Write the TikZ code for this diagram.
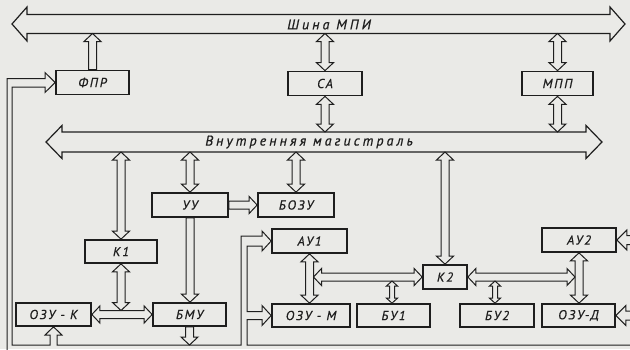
\documentclass[tikz,border=0pt]{standalone}
\usepackage{fontspec}
\setmainfont{PT Sans}
\usetikzlibrary{calc}
\definecolor{bg}{RGB}{234,234,231}
\definecolor{ink}{RGB}{30,30,30}
\newcommand\ahl{8pt}\newcommand\ahw{8pt}\newcommand\asw{3.5pt}
\newcommand\setarr[3]{\renewcommand\ahl{#1}\renewcommand\ahw{#2}\renewcommand\asw{#3}}
% single hollow arrow: tail #2, tip #3
\newcommand\sarr[3][conn]{\draw[#1] (#3) -- ($(#3)!\ahl!(#2)!\ahw!90:(#2)$) -- ($(#3)!\ahl!(#2)!\asw!90:(#2)$) -- ($(#2)!\asw!-90:(#3)$) -- ($(#2)!\asw!90:(#3)$) -- ($(#3)!\ahl!(#2)!\asw!-90:(#2)$) -- ($(#3)!\ahl!(#2)!\ahw!-90:(#2)$) -- cycle;}
% double hollow arrow between #2 and #3
\newcommand\darr[3][conn]{\draw[#1] (#3) -- ($(#3)!\ahl!(#2)!\ahw!90:(#2)$) -- ($(#3)!\ahl!(#2)!\asw!90:(#2)$) -- ($(#2)!\ahl!(#3)!\asw!-90:(#3)$) -- ($(#2)!\ahl!(#3)!\ahw!-90:(#3)$) -- (#2) -- ($(#2)!\ahl!(#3)!\ahw!90:(#3)$) -- ($(#2)!\ahl!(#3)!\asw!90:(#3)$) -- ($(#3)!\ahl!(#2)!\asw!-90:(#2)$) -- ($(#3)!\ahl!(#2)!\ahw!-90:(#2)$) -- cycle;}
\newcommand\boxfont{\fontsize{13}{13}\selectfont\itshape\addfontfeature{LetterSpace=14,FakeBold=0.6}}
\newcommand\busfont{\fontsize{14}{14}\selectfont\itshape\addfontfeature{LetterSpace=22,FakeBold=0.6}}
\begin{document}
\begin{tikzpicture}[x=1pt,y=-1pt,
  box/.style={draw=ink, line width=1.7pt, minimum height=24pt, inner sep=0pt, font=\boxfont, text=ink},
  conn/.style={draw=ink, line width=1pt, line join=miter},
  bus/.style={draw=ink, line width=1.2pt, line join=miter},
  lbl/.style={font=\busfont, text=ink, inner sep=0pt}]
\useasboundingbox (0,0) rectangle (630,349);
\fill[bg] (0,0) rectangle (630,349);
\clip (0,0) rectangle (630,349);
% buses
\coordinate (tbL) at (12,24); \coordinate (tbR) at (625,24);
\coordinate (tbS) at (0,33.5);
\coordinate (ibL) at (46,142); \coordinate (ibR) at (602,142);
\coordinate (ibN) at (0,132); \coordinate (ibS) at (0,152);
\setarr{15pt}{17pt}{9.5pt}
\darr[bus]{tbL}{tbR}
\setarr{16pt}{16.5pt}{10pt}
\darr[bus]{ibL}{ibR}
\node[lbl] (tbtext) at (329,24.5) {Шина МПИ};
\node[lbl] (ibtext) at (309,142) {Внутренняя магистраль};
% boxes
\node[box, minimum width=73pt] (fpr) at (92.5,82.5) {ФПР};
\node[box, minimum width=74pt] (sa) at (325,83.5) {СА};
\node[box, minimum width=71pt] (mpp) at (557.5,83.5) {МПП};
\node[box, minimum width=76pt] (uu) at (190,205) {УУ};
\node[box, minimum width=76pt] (bozu) at (296,205) {БОЗУ};
\node[box, minimum width=72pt, minimum height=23pt] (k1) at (121,251.5) {К1};
\node[box, minimum width=75pt] (au1) at (309.5,241) {АУ1};
\node[box, minimum width=74pt] (au2) at (579,240) {АУ2};
\node[box, minimum width=44pt] (k2) at (445,277) {К2};
\node[box, minimum width=75pt, minimum height=23pt] (ozuk) at (53.5,314.5) {ОЗУ - К};
\node[box, minimum width=73pt, minimum height=23pt] (bmu) at (189.5,314.5) {БМУ};
\node[box, minimum width=78pt, minimum height=23pt] (ozum) at (311,315.5) {ОЗУ - М};
\node[box, minimum width=73pt, minimum height=23pt] (bu1) at (393.5,315.5) {БУ1};
\node[box, minimum width=74pt, minimum height=23pt] (bu2) at (497,315.5) {БУ2};
\node[box, minimum width=73pt, minimum height=23pt] (ozud) at (578.5,315.5) {ОЗУ-Д};
% connectors
\coordinate (pipeT) at (0,345);
\coordinate (hk) at (121,310.5);
\coordinate (j1) at (313.5,277);
\coordinate (j2) at (575,277);
\setarr{8pt}{8.5pt}{4pt}
\sarr{fpr.north}{fpr.north |- tbS}
\darr{sa.north}{sa.north |- tbS}
\darr{mpp.north}{mpp.north |- tbS}
\darr{sa.south}{sa.south |- ibN}
\darr{mpp.south}{mpp.south |- ibN}
\darr{k1.north |- ibS}{k1.north}
\darr{uu.north |- ibS}{uu.north}
\darr{bozu.north |- ibS}{bozu.north}
\darr{k2.north |- ibS}{k2.north}
\sarr{uu.east}{bozu.west}
\sarr{uu.south}{uu.south |- bmu.north}
\darr{ozuk.east}{bmu.west}
\darr{k1.south}{hk}
\sarr{bmu.south}{bmu.south |- pipeT}
\darr{au1.south}{au1.south |- ozum.north}
\darr{j1}{k2.west}
\darr{k2.east}{j2}
\darr{au2.south}{au2.south |- ozud.north}
\setarr{5pt}{5.5pt}{2.5pt}
\coordinate (b1) at (392,281); \coordinate (b2) at (495,281);
\darr{b1}{b1 |- bu1.north}
\darr{b2}{b2 |- bu2.north}
% feed pipes
\setarr{10pt}{10pt}{4.5pt}
\coordinate (r1) at (645,240); \coordinate (r2) at (645,315.5);
\sarr{r1}{au2.east}
\sarr{r2}{ozud.east}
\draw[conn] (7,352) -- (7,78.5) -- (45,78.5) -- (45,72.5) -- (fpr.west) -- (45,92.5) -- (45,87) -- (12,87)
  -- (12,345) -- (50,345) -- (50,335) -- (45,335) -- (ozuk.south) -- (62,335) -- (57,335) -- (57,345)
  -- (241,345) -- (241,236) -- (262,236) -- (262,231) -- (au1.west) -- (262,251) -- (262,246) -- (247,246)
  -- (247,311.5) -- (262,311.5) -- (262,305.5) -- (ozum.west) -- (262,325.5) -- (262,319.5) -- (247,319.5)
  -- (247,345) -- (640,345);
\end{tikzpicture}
\end{document}
